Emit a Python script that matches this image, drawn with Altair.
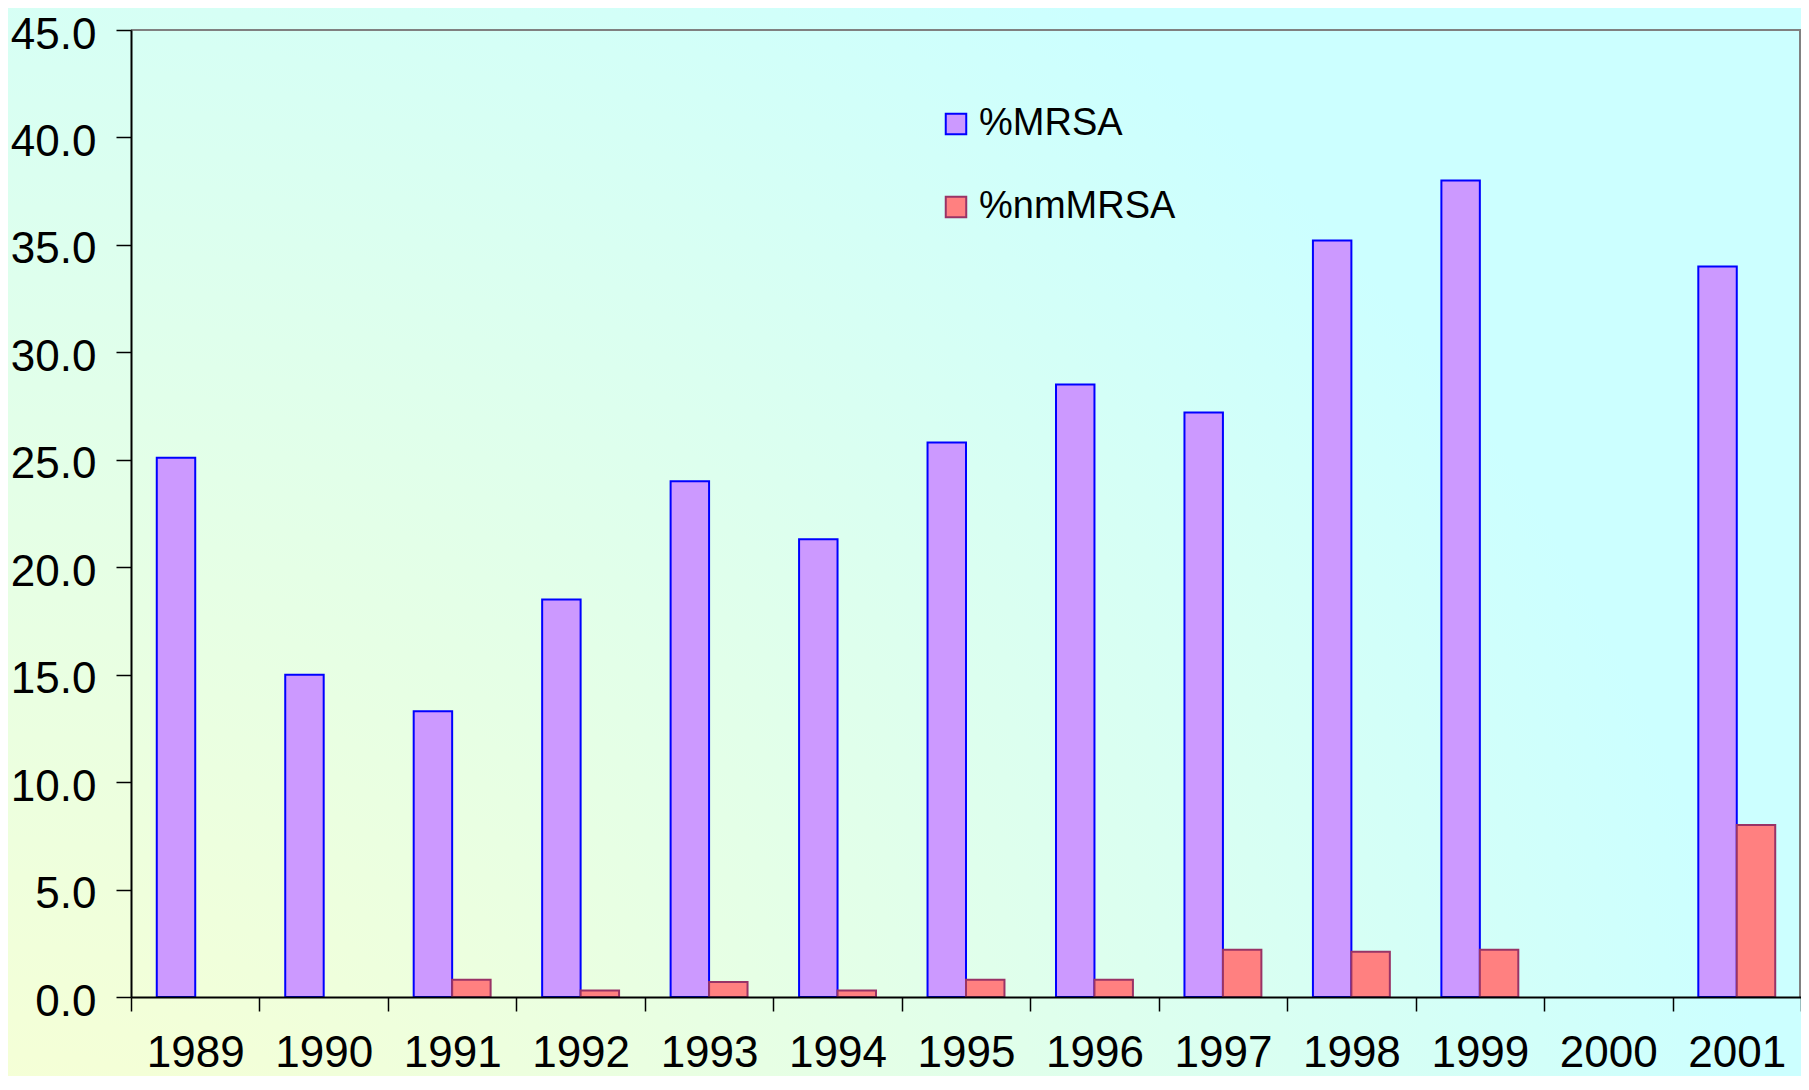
import altair as alt
import pandas as pd

years = ["1989", "1990", "1991", "1992", "1993", "1994", "1995",
         "1996", "1997", "1998", "1999", "2000", "2001"]
mrsa = [25.1, 15.0, 13.3, 18.5, 24.0, 21.3, 25.8, 28.5, 27.2, 35.2, 38.0, None, 34.0]
nmmrsa = [None, None, 0.8, 0.3, 0.7, 0.3, 0.8, 0.8, 2.2, 2.1, 2.2, None, 8.0]
series = ["%MRSA", "%nmMRSA"]
fills = ["#CC99FF", "#FF8080"]
strokes = ["#0000FF", "#993366"]
y_ticks = [0, 5, 10, 15, 20, 25, 30, 35, 40, 45]

rows = []
for i, yr in enumerate(years):
    rows.append({"year": yr, "series": series[0], "value": mrsa[i]})
    rows.append({"year": yr, "series": series[1], "value": nmmrsa[i]})
df = pd.DataFrame(rows)

W, H = 1670, 967
PAD = {"left": 123, "top": 22, "right": 0, "bottom": 79}

one = alt.Data(values=[{"k": 1}])

bg = alt.Chart(one).mark_rect(
    fill=alt.RadialGradient(
        gradient="radial",
        stops=[alt.GradientStop(color="#FFFFCC", offset=0),
               alt.GradientStop(color="#CCFFFF", offset=1)],
        x1=0, y1=1, r1=0, x2=0, y2=1, r2=1,
    ),
    strokeWidth=0,
).encode(
    x=alt.value(-PAD["left"]), x2=alt.value(W + PAD["right"]),
    y=alt.value(-PAD["top"]), y2=alt.value(H + PAD["bottom"]),
)

legend = alt.Legend(
    title=None, orient="none", legendX=806, legendY=75,
    symbolType="square", symbolSize=420, symbolStrokeWidth=2,
    labelFontSize=38, labelFont="Liberation Sans", labelColor="black",
    labelOffset=4, rowPadding=45, labelLimit=400, padding=0,
)

bars = alt.Chart(df).mark_bar(strokeWidth=2).encode(
    x=alt.X("year:N", sort=years,
            scale=alt.Scale(paddingInner=0, paddingOuter=0),
            axis=alt.Axis(title=None, labelAngle=0, tickBand="extent",
                          tickSize=14, labelPadding=20, labelFontSize=44,
                          labelFont="Liberation Sans", labelColor="black",
                          domainColor="black", domainWidth=2,
                          tickColor="black", tickWidth=1.5, zindex=1)),
    xOffset=alt.XOffset("series:N", sort=series,
                        scale=alt.Scale(paddingOuter=0.67, paddingInner=0)),
    y=alt.Y("value:Q", scale=alt.Scale(domain=[0, 45], nice=False, zero=True),
            axis=alt.Axis(title=None, values=y_ticks, format=".1f",
                          tickSize=15, labelPadding=20, labelFontSize=44,
                          labelOffset=5,
                          labelFont="Liberation Sans", labelColor="black",
                          domainColor="black", domainWidth=2,
                          tickColor="black", tickWidth=1.5, grid=False,
                          zindex=1)),
    fill=alt.Fill("series:N", sort=series,
                  scale=alt.Scale(domain=series, range=fills), legend=legend),
    stroke=alt.Stroke("series:N", sort=series,
                      scale=alt.Scale(domain=series, range=strokes), legend=legend),
)

frame_top = alt.Chart(one).mark_rule(color="#808080", strokeWidth=2).encode(
    x=alt.value(0), x2=alt.value(W), y=alt.value(0))
frame_right = alt.Chart(one).mark_rule(color="#808080", strokeWidth=2).encode(
    x=alt.value(W - 1), y=alt.value(0), y2=alt.value(H))

chart = alt.layer(bg, bars, frame_top, frame_right).properties(
    width=W, height=H, padding=PAD,
    autosize=alt.AutoSizeParams(type="none"),
).configure(font="Liberation Sans", background="#CCFFFF").configure_view(stroke=None)

chart.save("out.html", embed_options={"renderer": "svg", "actions": False})
